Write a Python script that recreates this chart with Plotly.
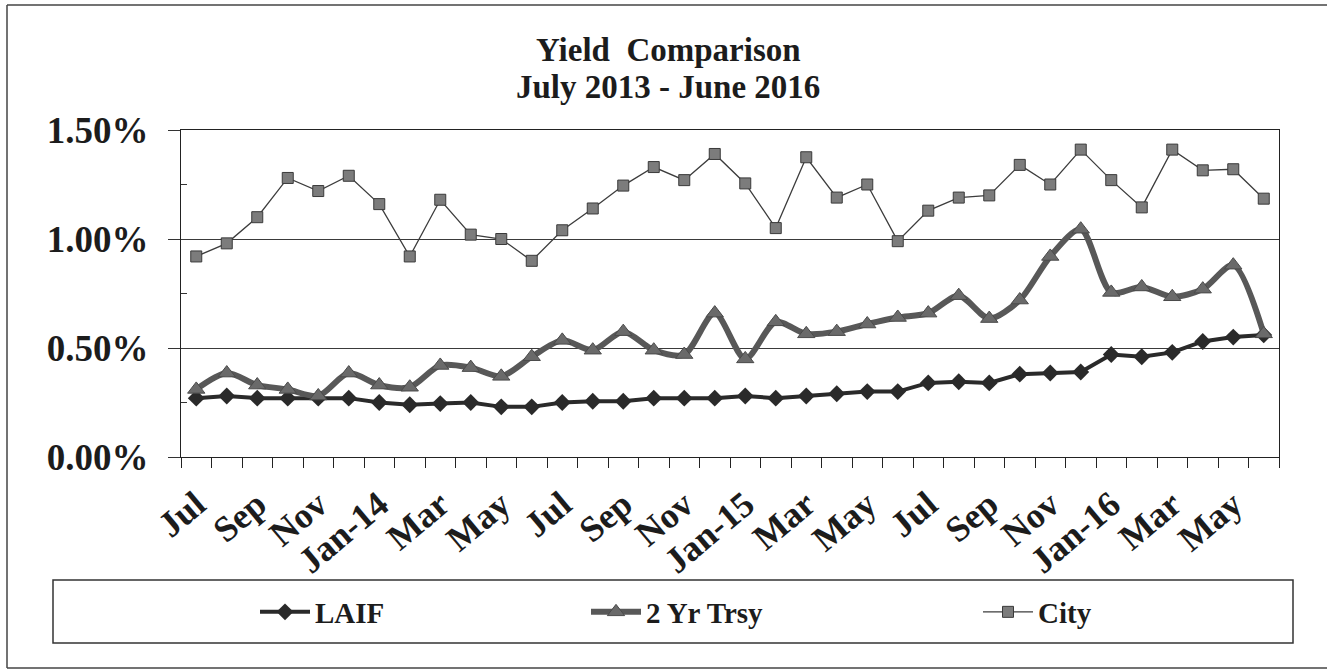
import plotly.graph_objects as go

# ---- data ----
months = ["Jul", "Aug", "Sep", "Oct", "Nov", "Dec", "Jan-14", "Feb", "Mar", "Apr", "May", "Jun",
          "Jul", "Aug", "Sep", "Oct", "Nov", "Dec", "Jan-15", "Feb", "Mar", "Apr", "May", "Jun",
          "Jul", "Aug", "Sep", "Oct", "Nov", "Dec", "Jan-16", "Feb", "Mar", "Apr", "May", "Jun"]
laif = [0.27, 0.28, 0.27, 0.27, 0.27, 0.27, 0.25, 0.24, 0.245, 0.25, 0.23, 0.23,
        0.25, 0.256, 0.256, 0.27, 0.27, 0.27, 0.28, 0.27, 0.28, 0.29, 0.30, 0.30,
        0.34, 0.345, 0.34, 0.38, 0.385, 0.39, 0.47, 0.46, 0.48, 0.53, 0.55, 0.56]
trsy = [0.31, 0.385, 0.33, 0.31, 0.28, 0.385, 0.33, 0.32, 0.42, 0.41, 0.37, 0.46,
        0.535, 0.49, 0.575, 0.49, 0.47, 0.66, 0.45, 0.62, 0.565, 0.575, 0.61, 0.64,
        0.66, 0.74, 0.635, 0.72, 0.92, 1.045, 0.755, 0.78, 0.735, 0.77, 0.88, 0.565]
city = [0.92, 0.98, 1.10, 1.28, 1.22, 1.29, 1.16, 0.92, 1.18, 1.02, 1.00, 0.90,
        1.04, 1.14, 1.245, 1.33, 1.27, 1.39, 1.255, 1.05, 1.375, 1.19, 1.25, 0.99,
        1.13, 1.19, 1.20, 1.34, 1.25, 1.41, 1.27, 1.145, 1.41, 1.315, 1.32, 1.185]
y_ticks = [0.0, 0.5, 1.0, 1.5]
y_tick_text = ["0.00%", "0.50%", "1.00%", "1.50%"]
minor_y = [0.25, 0.75, 1.25]
title_lines = ["Yield  Comparison", "July 2013 - June 2016"]

x = list(range(len(months)))
label_idx = x[::2]
label_text = [months[i] for i in label_idx]
boundaries = [i - 0.5 for i in range(len(months) + 1)]

FONT = "Liberation Serif"
INK = "#1c1c1c"

fig = go.Figure()
fig.add_trace(go.Scatter(
    x=x, y=laif, name="LAIF", mode="lines+markers", legend="legend",
    line=dict(color="#2a2a2a", width=4),
    marker=dict(symbol="diamond", size=13, color="#2a2a2a"),
))
fig.add_trace(go.Scatter(
    x=x, y=trsy, name="2 Yr Trsy", mode="lines+markers", legend="legend2",
    line=dict(color="#585858", width=6, shape="spline", smoothing=0.8),
    marker=dict(symbol="triangle-up", size=15, color="#6a6a6a", line=dict(color="#4a4a4a", width=1)),
))
fig.add_trace(go.Scatter(
    x=x, y=city, name="City", mode="lines+markers", legend="legend3",
    line=dict(color="#3c3c3c", width=1.3),
    marker=dict(symbol="square", size=11, color="#7c7c7c", line=dict(color="#3a3a3a", width=1)),
))

L, R, T, B = 181, 48, 130, 213
W, H = 1327, 670
pw, ph = W - L - R, H - T - B


def px(xp):
    return (xp - L) / pw


def py(yp):
    return (H - B - yp) / ph


leg_common = dict(orientation="h", bgcolor="rgba(0,0,0,0)", borderwidth=0,
                  font=dict(family=FONT, size=29, color=INK, weight="bold"), itemwidth=50,
                  yanchor="middle", xanchor="left", y=py(612))

frame = dict(color="#444", width=1.5)

fig.update_layout(
    width=W, height=H,
    margin=dict(l=L, r=R, t=T, b=B),
    paper_bgcolor="white", plot_bgcolor="white",
    showlegend=True,
    legend=dict(x=px(255), **leg_common),
    legend2=dict(x=px(586), **leg_common),
    legend3=dict(x=px(978), **leg_common),
    xaxis=dict(
        range=[-0.5, len(months) - 0.5],
        tickmode="array", tickvals=label_idx, ticktext=label_text,
        tickangle=-40, ticks="outside", ticklen=11, tickcolor="rgba(0,0,0,0)",
        tickfont=dict(family=FONT, size=36, color=INK, weight="bold"),
        showgrid=False, zeroline=False,
        showline=True, linecolor="#222", linewidth=1.2, mirror=True,
        minor=dict(tickmode="array", tickvals=boundaries, ticks="outside",
                   ticklen=10, tickcolor="#222", tickwidth=1.2, showgrid=False),
    ),
    yaxis=dict(
        range=[0, 1.5],
        tickmode="array", tickvals=y_ticks, ticktext=y_tick_text,
        ticks="outside", ticklen=12, tickcolor="#333", tickwidth=1,
        ticklabelstandoff=12,
        tickfont=dict(family=FONT, size=37, color=INK, weight="bold"),
        showgrid=True, gridcolor="#3a3a3a", gridwidth=1,
        zeroline=False,
        showline=True, linecolor="#222", linewidth=1.2, mirror=True,
        minor=dict(tickmode="array", tickvals=minor_y, ticks="inside",
                   ticklen=6, tickcolor="#333", showgrid=False),
    ),
    shapes=[
        dict(type="line", xref="paper", yref="paper",
             x0=px(7), x1=px(7), y0=py(668), y1=py(5), line=frame, layer="below"),
        dict(type="line", xref="paper", yref="paper",
             x0=px(7), x1=px(1327), y0=py(5), y1=py(5), line=frame, layer="below"),
        dict(type="line", xref="paper", yref="paper",
             x0=px(7), x1=px(1327), y0=py(668), y1=py(668), line=frame, layer="below"),
        dict(type="rect", xref="paper", yref="paper",
             x0=px(53), x1=px(1293), y0=py(643), y1=py(580),
             line=dict(color="#333", width=1.5), layer="below"),
    ],
    annotations=[
        dict(text="<b>" + title_lines[0] + "</b>", xref="paper", yref="paper",
             x=px(668), y=py(50), xanchor="center", yanchor="middle", showarrow=False,
             font=dict(family=FONT, size=33, color=INK)),
        dict(text="<b>" + title_lines[1] + "</b>", xref="paper", yref="paper",
             x=px(668), y=py(87), xanchor="center", yanchor="middle", showarrow=False,
             font=dict(family=FONT, size=33, color=INK)),
    ],
    font=dict(family=FONT, color=INK),
)

fig.write_html("out.html", config={"displayModeBar": False},
               post_script="document.body.style.margin='0';document.body.style.overflow='hidden';")
